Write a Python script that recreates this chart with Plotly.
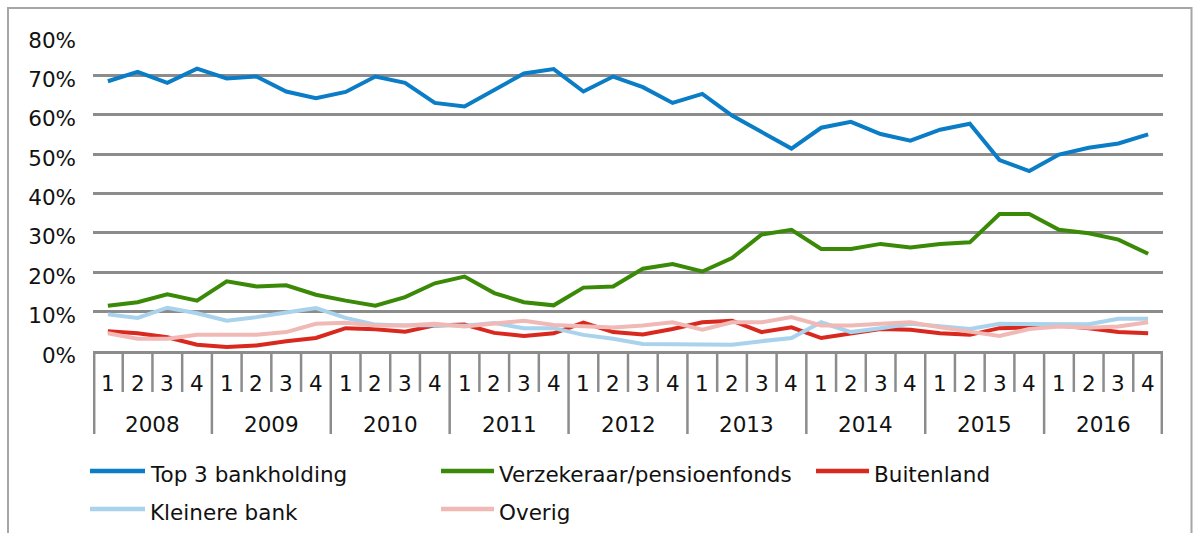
import plotly.graph_objects as go

years = ["2008", "2009", "2010", "2011", "2012", "2013", "2014", "2015", "2016"]
quarters = ["1", "2", "3", "4"]

series_names = ["Top 3 bankholding", "Verzekeraar/pensioenfonds", "Buitenland",
                "Kleinere bank", "Overig"]

top3 = [68.5, 70.9, 68.1, 71.7, 69.2, 69.7, 65.9, 64.2, 65.8, 69.7, 68.1, 63.0,
        62.1, 66.3, 70.5, 71.6, 65.9, 69.7, 67.0, 63.0, 65.3, 59.8, 55.7, 51.4,
        56.7, 58.2, 55.1, 53.4, 56.2, 57.7, 48.5, 45.7, 49.9, 51.6, 52.7, 55.0]
verzekeraar = [11.5, 12.4, 14.4, 12.8, 17.7, 16.4, 16.7, 14.3, 12.8, 11.5, 13.7, 17.2,
               18.9, 14.7, 12.4, 11.6, 16.1, 16.4, 20.9, 22.1, 20.2, 23.6, 29.6, 30.8,
               25.9, 25.9, 27.2, 26.3, 27.2, 27.6, 34.8, 34.8, 30.8, 29.9, 28.3, 24.7]
buitenland = [5.0, 4.5, 3.5, 1.6, 1.0, 1.4, 2.5, 3.3, 5.8, 5.5, 4.9, 6.5,
              6.7, 4.6, 3.8, 4.5, 7.2, 4.8, 4.2, 5.6, 7.3, 7.7, 4.8, 6.0,
              3.3, 4.4, 5.6, 5.4, 4.5, 4.1, 5.8, 6.0, 6.5, 5.8, 4.8, 4.5]
kleinere = [9.3, 8.4, 11.0, 9.6, 7.7, 8.6, 9.8, 10.9, 8.4, 6.7, 6.5, 6.6,
            6.4, 7.1, 5.8, 5.8, 4.1, 3.1, 1.8, 1.8, 1.6, 1.6, 2.5, 3.3,
            7.3, 4.8, 5.8, 6.9, 6.3, 5.6, 6.9, 6.9, 6.9, 6.8, 8.2, 8.2]
overig = [4.5, 3.1, 3.1, 4.1, 4.1, 4.1, 4.8, 6.9, 7.2, 6.5, 6.5, 6.9,
          6.2, 6.9, 7.7, 6.6, 6.2, 6.0, 6.5, 7.3, 5.4, 7.3, 7.3, 8.6,
          6.5, 6.5, 6.9, 7.3, 6.0, 4.8, 3.8, 5.6, 6.2, 5.9, 6.2, 7.3]

y_ticks = [0, 10, 20, 30, 40, 50, 60, 70, 80]
y_tick_labels = ["0%", "10%", "20%", "30%", "40%", "50%", "60%", "70%", "80%"]

colors = ["#0B7CC6", "#3A8A08", "#D9291E", "#A9D2EC", "#F0B9B5"]
series = [top3, verzekeraar, buitenland, kleinere, overig]

FONT = "DejaVu Sans"
FS = 21.5
GRID = "#8C8C8C"

n = len(years) * len(quarters)
xs = list(range(n))

fig = go.Figure()
for name, vals, col in zip(series_names, series, colors):
    fig.add_trace(go.Scatter(x=xs, y=vals, mode="lines", name=name,
                             line=dict(color=col, width=4), showlegend=False,
                             hovertemplate="%{y:.1f}%<extra>" + name + "</extra>"))

W, H = 1198, 533
L, R, T, B = 93, 35, 36, 182
pw, ph = W - L - R, H - T - B


def px(xp):
    return (xp - L) / pw


def py(yp):
    return (H - B - yp) / ph


shapes = []
annotations = []
# quarter labels
for i in range(n):
    q = quarters[i % 4]
    annotations.append(dict(x=i, y=py(383), xref="x", yref="paper", text=q,
                            showarrow=False, yanchor="middle",
                            font=dict(family=FONT, size=FS, color="#111")))
# separators
for b in range(n + 1):
    xb = b - 0.5
    if b == 0:
        xb += 0.04
    if b == n:
        xb -= 0.04
    is_year = (b % 4 == 0)
    shapes.append(dict(type="line", xref="x", yref="paper", x0=xb, x1=xb,
                       y0=0, y1=py(434) if is_year else py(392),
                       line=dict(color=GRID, width=2.5)))
# year labels
for k, yr in enumerate(years):
    annotations.append(dict(x=k * 4 + 1.5, y=py(424), xref="x", yref="paper", text=yr,
                            showarrow=False, yanchor="middle",
                            font=dict(family=FONT, size=FS, color="#111")))

# outer frame
shapes.append(dict(type="rect", xref="paper", yref="paper",
                   x0=px(8), x1=px(1191.5), y0=py(8), y1=py(545),
                   line=dict(color="#A6A6A6", width=2), fillcolor="rgba(0,0,0,0)"))

# manual legend
legend_pos = [
    (90, 145, 148, 474),
    (441, 494, 497, 474),
    (816, 869, 872, 474),
    (90, 145, 148, 512),
    (441, 494, 497, 512),
]
for (lx0, lx1, tx, ly), name, col in zip(legend_pos, series_names, colors):
    shapes.append(dict(type="line", xref="paper", yref="paper",
                       x0=px(lx0), x1=px(lx1), y0=py(ly - 3), y1=py(ly - 3),
                       line=dict(color=col, width=4.5)))
    annotations.append(dict(x=px(tx), y=py(ly), xref="paper", yref="paper",
                            text=name, showarrow=False, xanchor="left", yanchor="middle",
                            font=dict(family=FONT, size=FS, color="#111")))

fig.update_layout(
    template="none",
    width=W, height=H,
    margin=dict(l=L, r=R, t=T, b=B, pad=0, autoexpand=False),
    paper_bgcolor="white", plot_bgcolor="white",
    showlegend=False,
    shapes=shapes,
    annotations=annotations,
    xaxis=dict(range=[-0.5, n - 0.5], showgrid=False, zeroline=False, automargin=False,
               showticklabels=False, ticks="", showline=True,
               linecolor=GRID, linewidth=2.5, fixedrange=True),
    yaxis=dict(range=[0, 80], tickvals=y_ticks, ticktext=y_tick_labels, automargin=False,
               showgrid=True, gridcolor=GRID, gridwidth=2.5, zeroline=False,
               showline=False, ticks="", ticklabelstandoff=16, ticklabelshift=4,
               tickfont=dict(family=FONT, size=FS, color="#111"), fixedrange=True),
)

fig.write_html("out.html", config={"displayModeBar": False},
               post_script="document.body.style.margin='0';document.body.style.overflow='hidden';")
